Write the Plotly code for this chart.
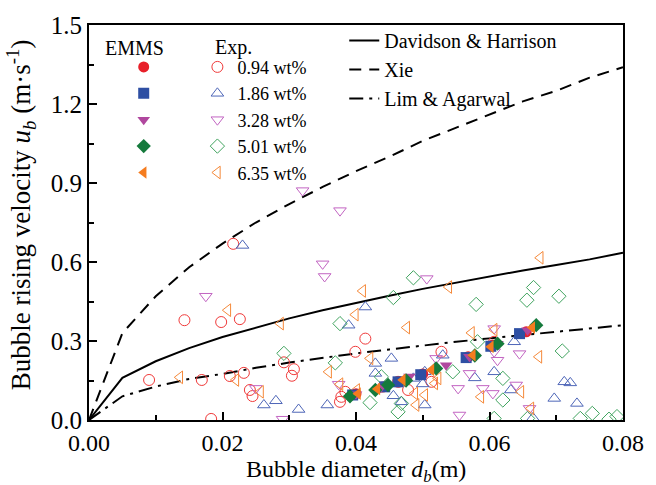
import plotly.graph_objects as go

# ---------------- data ----------------
d_curve = [0.0, 0.005, 0.01, 0.015, 0.02, 0.025, 0.03, 0.035, 0.04, 0.045,
           0.05, 0.055, 0.06, 0.065, 0.07, 0.075, 0.08]
u_davidson = [0.0, 0.16, 0.223, 0.273, 0.315, 0.352, 0.386, 0.417, 0.445, 0.472,
              0.498, 0.522, 0.545, 0.568, 0.589, 0.61, 0.635]
u_xie = [0.0, 0.33, 0.47, 0.58, 0.67, 0.75, 0.82, 0.885, 0.945, 1.0,
         1.06, 1.11, 1.16, 1.21, 1.25, 1.30, 1.34]
u_lim = [0.0, 0.09, 0.127, 0.156, 0.175, 0.198, 0.218, 0.236, 0.253, 0.268,
         0.283, 0.297, 0.31, 0.323, 0.335, 0.347, 0.36]

series_names = ["0.94 wt%", "1.86 wt%", "3.28 wt%", "5.01 wt%", "6.35 wt%"]

exp_d_094 = [0.0090, 0.0143, 0.0169, 0.0183, 0.0198, 0.0211, 0.0216, 0.0226, 0.0232, 0.0241,
             0.0245, 0.0292, 0.0304, 0.0307, 0.0376, 0.0378, 0.0384, 0.0399, 0.0414, 0.0463,
             0.0478, 0.0513, 0.0528, 0.0607]
exp_u_094 = [0.152, 0.379, 0.152, 0.004, 0.372, 0.167, 0.669, 0.383, 0.179, 0.114,
             0.091, 0.219, 0.168, 0.193, 0.069, 0.088, 0.107, 0.259, 0.309, 0.145,
             0.114, 0.145, 0.259, 0.297]

exp_d_186 = [0.0230, 0.0262, 0.0280, 0.0314, 0.0357, 0.0389, 0.0414, 0.0429, 0.0429, 0.0453,
             0.0456, 0.0468, 0.0486, 0.0500, 0.0503, 0.0503, 0.0530, 0.0578, 0.0607, 0.0632,
             0.0637, 0.0665, 0.0697, 0.0712, 0.0721, 0.0731]
exp_u_186 = [0.663, 0.057, 0.073, 0.040, 0.057, 0.360, 0.429, 0.215, 0.177, 0.234,
             0.092, 0.069, 0.158, 0.137, 0.057, 0.183, 0.246, 0.160, 0.183, 0.114,
             0.297, 0.008, 0.082, 0.145, 0.141, 0.063]

exp_d_328 = [0.0175, 0.0250, 0.0290, 0.0320, 0.0350, 0.0353, 0.0374, 0.0376, 0.0506, 0.0520,
             0.0553, 0.0555, 0.0570, 0.0590, 0.0605, 0.0607, 0.0607, 0.0612, 0.0640, 0.0645,
             0.0660]
exp_u_328 = [0.470, 0.120, 0.003, 0.871, 0.593, 0.545, 0.136, 0.795, 0.537, 0.234,
             0.120, 0.019, 0.177, 0.120, 0.101, 0.347, 0.259, 0.227, 0.133, 0.252,
             0.044]

exp_d_501 = [0.0292, 0.0369, 0.0376, 0.0421, 0.0438, 0.0456, 0.0463, 0.0468, 0.0486, 0.0545,
             0.0580, 0.0582, 0.0620, 0.0620, 0.0607, 0.0656, 0.0657, 0.0666, 0.0704, 0.0709,
             0.0736, 0.0754, 0.0779, 0.0791]
exp_u_501 = [0.253, 0.217, 0.366, 0.066, 0.164, 0.465, 0.031, 0.063, 0.540, 0.183,
             0.439, 0.297, 0.158, 0.076, 0.006, 0.455, 0.006, 0.503, 0.470, 0.262,
             0.006, 0.025, 0.003, 0.013]

exp_d_635 = [0.0136, 0.0208, 0.0220, 0.0257, 0.0287, 0.0359, 0.0376, 0.0399, 0.0401, 0.0410,
             0.0421, 0.0476, 0.0488, 0.0490, 0.0503, 0.0518, 0.0523, 0.0539, 0.0573, 0.0587,
             0.0607, 0.0647, 0.0662, 0.0674, 0.0676]
exp_u_635 = [0.162, 0.417, 0.152, 0.107, 0.366, 0.183, 0.136, 0.400, 0.114, 0.490,
             0.234, 0.351, 0.101, 0.057, 0.095, 0.139, 0.158, 0.505, 0.331, 0.088,
             0.343, 0.107, 0.044, 0.240, 0.616]

emms_d_094 = [0.0400, 0.0440, 0.0465, 0.0500, 0.0568, 0.0605, 0.0655]
emms_u_094 = [0.100, 0.125, 0.145, 0.175, 0.240, 0.285, 0.335]
emms_d_186 = [0.0395, 0.0443, 0.0463, 0.0497, 0.0565, 0.0602, 0.0645]
emms_u_186 = [0.095, 0.126, 0.145, 0.172, 0.237, 0.280, 0.328]
emms_d_328 = [0.0400, 0.0437, 0.0480, 0.0535, 0.0570, 0.0612, 0.0657]
emms_u_328 = [0.098, 0.122, 0.165, 0.208, 0.240, 0.290, 0.341]
emms_d_501 = [0.0391, 0.0429, 0.0448, 0.0475, 0.0520, 0.0578, 0.0612, 0.0670]
emms_u_501 = [0.090, 0.114, 0.133, 0.150, 0.196, 0.245, 0.290, 0.360]
emms_d_635 = [0.0403, 0.0432, 0.0470, 0.0513, 0.0575, 0.0602, 0.0664]
emms_u_635 = [0.100, 0.118, 0.152, 0.190, 0.246, 0.278, 0.351]

x_ticks = [0.00, 0.02, 0.04, 0.06, 0.08]
x_tick_labels = ["0.00", "0.02", "0.04", "0.06", "0.08"]
y_ticks = [0.0, 0.3, 0.6, 0.9, 1.2, 1.5]
y_tick_labels = ["0.0", "0.3", "0.6", "0.9", "1.2", "1.5"]

x_title = "Bubble diameter <i>d</i><sub><i>b</i></sub>(m)"
y_title = "Bubble rising velocity <i>u</i><sub><i>b</i></sub> (m·s<sup>-1</sup>)"

# ---------------- styles ----------------
FONT = "Liberation Serif"
open_colors = ["#F03A3A", "#4E66B8", "#C264C2", "#3FA35E", "#F5893A"]
solid_colors = ["#E8202A", "#2E4FA3", "#B0479E", "#157A3C", "#F57C1F"]
open_symbols = ["circle-open", "triangle-up-open", "triangle-down-open", "diamond-open", "triangle-left-open"]
solid_symbols = ["circle", "square", "triangle-down", "diamond", "triangle-left"]

exp_d = [exp_d_094, exp_d_186, exp_d_328, exp_d_501, exp_d_635]
exp_u = [exp_u_094, exp_u_186, exp_u_328, exp_u_501, exp_u_635]
emms_d = [emms_d_094, emms_d_186, emms_d_328, emms_d_501, emms_d_635]
emms_u = [emms_u_094, emms_u_186, emms_u_328, emms_u_501, emms_u_635]

fig = go.Figure()

# model lines
fig.add_trace(go.Scatter(x=d_curve, y=u_davidson, mode="lines", name="Davidson & Harrison",
                         line=dict(color="black", width=2), legend="legend3"))
fig.add_trace(go.Scatter(x=d_curve, y=u_xie, mode="lines", name="Xie",
                         line=dict(color="black", width=2, dash="12px,8px"), legend="legend3"))
fig.add_trace(go.Scatter(x=d_curve, y=u_lim, mode="lines", name="Lim & Agarwal",
                         line=dict(color="black", width=2, dash="14px,6px,3px,6px"), legend="legend3"))

# experimental (open)
for i in range(5):
    fig.add_trace(go.Scatter(x=exp_d[i], y=exp_u[i], mode="markers", name=series_names[i],
                             marker=dict(symbol=open_symbols[i], size=11, color=open_colors[i],
                                         line=dict(width=1, color=open_colors[i])),
                             legend="legend2"))

# EMMS (solid)
for i in range(5):
    fig.add_trace(go.Scatter(x=emms_d[i], y=emms_u[i], mode="markers", name="\u00a0",
                             marker=dict(symbol=solid_symbols[i], size=11, color=solid_colors[i],
                                         line=dict(width=0)),
                             legend="legend"))

leg_common = dict(bgcolor="rgba(0,0,0,0)", borderwidth=0, tracegroupgap=0,
                  xanchor="left", yanchor="top", itemsizing="trace")

fig.update_layout(
    width=656, height=485,
    margin=dict(l=89, r=29, t=22, b=65),
    paper_bgcolor="white", plot_bgcolor="white",
    font=dict(family=FONT, size=24, color="black"),
    showlegend=True,
    legend=dict(x=0.065, y=0.94, font=dict(family=FONT, size=18, color="black"), **leg_common),
    legend2=dict(x=0.203, y=0.94, font=dict(family=FONT, size=18, color="black"), **leg_common),
    legend3=dict(x=0.478, y=1.01, font=dict(family=FONT, size=20, color="black"), **leg_common),
    annotations=[
        dict(text="EMMS", xref="paper", yref="paper", x=0.085, y=0.942, xanchor="center",
             yanchor="middle", showarrow=False, font=dict(family=FONT, size=20)),
        dict(text="Exp.", xref="paper", yref="paper", x=0.232, y=0.942, xanchor="left",
             yanchor="middle", showarrow=False, font=dict(family=FONT, size=20)),
        dict(text=x_title, xref="paper", yref="paper", x=0.5, y=-0.13, xanchor="center",
             yanchor="middle", showarrow=False, font=dict(family=FONT, size=24)),
        dict(text=y_title, xref="paper", yref="paper", x=-0.128, y=0.52, xanchor="center",
             yanchor="middle", textangle=-90, showarrow=False, font=dict(family=FONT, size=27)),
    ],
)

fig.update_xaxes(
    range=[0, 0.08], tickvals=x_ticks, ticktext=x_tick_labels,
    ticks="inside", ticklen=8, tickwidth=2, tickcolor="black",
    minor=dict(ticks="inside", ticklen=5, tickwidth=2, tickcolor="black", dtick=0.01),
    showline=True, linewidth=2, linecolor="black", mirror=True,
    showgrid=False, zeroline=False,
    tickfont=dict(family=FONT, size=24),
)
fig.update_yaxes(
    range=[0, 1.5], tickvals=y_ticks, ticktext=y_tick_labels,
    ticks="inside", ticklen=8, tickwidth=2, tickcolor="black",
    minor=dict(ticks="inside", ticklen=5, tickwidth=2, tickcolor="black", dtick=0.15),
    showline=True, linewidth=2, linecolor="black", mirror=True,
    showgrid=False, zeroline=False,
    tickfont=dict(family=FONT, size=25),
)

fig.write_html("out.html")
